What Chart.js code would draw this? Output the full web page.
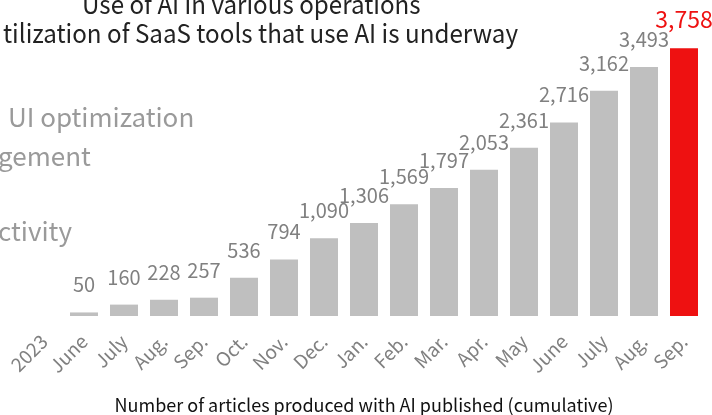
<!DOCTYPE html>
<html>
<head>
<meta charset="utf-8">
<script src="https://cdn.jsdelivr.net/npm/chart.js@4.4.1/dist/chart.umd.min.js"></script>
<style>
  body { margin: 0; background: #fff; }
  #wrap { position: relative; width: 712px; height: 415px; overflow: hidden; font-family: "Noto Sans CJK JP", "Noto Sans", sans-serif; }
  #wrap canvas { position: absolute; left: 0; top: 0; }
  .txt { position: absolute; white-space: nowrap; line-height: 1; transform-origin: left top; }
  .head { color: #222; font-size: 26px; transform: scaleX(0.93); }
  .side { color: #9a9a9a; font-size: 26px; }
</style>
</head>
<body>
<div id="wrap">
  <canvas id="chart" width="712" height="415"></canvas>
  <div class="txt head" style="left:82px; top:-10px;">Use of AI in various operations</div>
  <div class="txt head" style="left:3px; top:19px;">tilization of SaaS tools that use AI is underway</div>
  <div class="txt side" style="left:8px; top:103px;">UI optimization</div>
  <div class="txt side" style="left:-2px; top:142px;">gement</div>
  <div class="txt side" style="left:-2px; top:217px;">ctivity</div>
</div>
<script>
const categories = ["2023", "June", "July", "Aug.", "Sep.", "Oct.", "Nov.", "Dec.", "Jan.", "Feb.", "Mar.", "Apr.", "May", "June", "July", "Aug.", "Sep."];
const articles = [null, 50, 160, 228, 257, 536, 794, 1090, 1306, 1569, 1797, 2053, 2361, 2716, 3162, 3493, 3758];
const axisTitle = "Number of articles produced with AI published (cumulative)";

const FONT = '"Noto Sans CJK JP", "Noto Sans", sans-serif';
const GRAY_BAR = "#bfbfbf";
const RED = "#ee1111";

const barColors = articles.map((v, i) => i === articles.length - 1 ? RED : GRAY_BAR);

// numbers above bars
const valueLabels = {
  id: "valueLabels",
  afterDatasetsDraw(chart) {
    const ctx = chart.ctx;
    const meta = chart.getDatasetMeta(0);
    meta.data.forEach((bar, i) => {
      const v = articles[i];
      if (v == null) return;
      const last = i === articles.length - 1;
      ctx.save();
      ctx.font = (last ? "23px " : "20px ") + FONT;
      ctx.fillStyle = last ? RED : "#808080";
      ctx.textAlign = "center";
      ctx.textBaseline = "alphabetic";
      ctx.fillText(v.toLocaleString("en-US"), bar.x, bar.y - 20);
      ctx.restore();
    });
  }
};

new Chart(document.getElementById("chart"), {
  type: "bar",
  data: {
    labels: categories,
    datasets: [{
      data: articles,
      backgroundColor: barColors,
      barPercentage: 0.7,
      categoryPercentage: 1
    }]
  },
  options: {
    responsive: false,
    animation: false,
    layout: { padding: { left: 24, right: 8, top: 31, bottom: 0 } },
    plugins: {
      legend: { display: false },
      tooltip: { enabled: false }
    },
    scales: {
      x: {
        offset: true,
        grid: { display: false, drawTicks: false },
        border: { display: false },
        ticks: {
          color: "#808080",
          font: { family: FONT, size: 19 },
          minRotation: 45,
          maxRotation: 45,
          autoSkip: false,
          padding: 14
        },
        title: {
          display: true,
          text: axisTitle,
          color: "#111",
          font: { family: FONT, size: 18 },
          padding: { top: 0, bottom: -1 }
        },
        afterFit(scale) {
          scale.height = 99;
          scale.paddingLeft = 0;
          scale.paddingRight = 0;
        }
      },
      y: {
        display: false,
        min: 0,
        max: 4000
      }
    }
  },
  plugins: [valueLabels]
});
</script>
</body>
</html>
